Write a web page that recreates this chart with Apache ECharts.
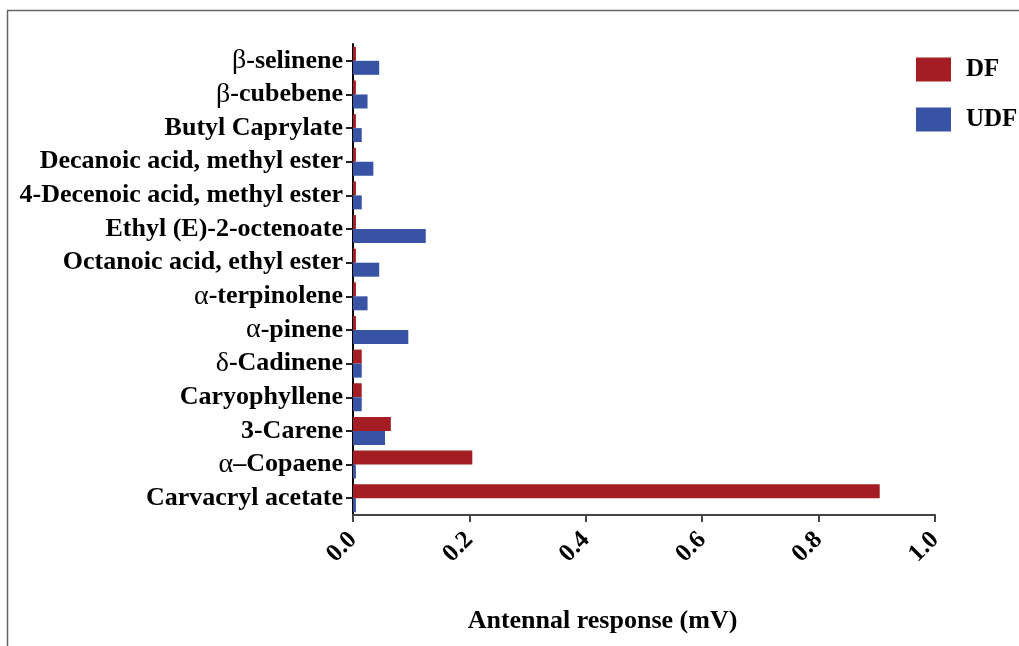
<!DOCTYPE html>
<html>
<head>
<meta charset="utf-8">
<script src="https://cdn.jsdelivr.net/npm/echarts@6/dist/echarts.min.js"></script>
<style>html,body{margin:0;padding:0;background:#fff}#c{width:1019px;height:646px}</style>
</head>
<body>
<div id="c"></div>
<script>
var categories = ['Carvacryl acetate','α–Copaene','3-Carene','Caryophyllene','δ-Cadinene','α-pinene','α-terpinolene','Octanoic acid, ethyl ester','Ethyl (E)-2-octenoate','4-Decenoic acid, methyl ester','Decanoic acid, methyl ester','Butyl Caprylate','β-cubebene','β-selinene'];
var dfValues  = [0.905, 0.205, 0.065, 0.015, 0.015, 0.005, 0.005, 0.005, 0.005, 0.005, 0.005, 0.005, 0.005, 0.005];
var udfValues = [0.005, 0.005, 0.055, 0.015, 0.015, 0.095, 0.025, 0.045, 0.125, 0.015, 0.035, 0.015, 0.025, 0.045];
var seriesNames = ['DF', 'UDF'];

var font = '"Liberation Serif", "Times New Roman", serif';
var chart = echarts.init(document.getElementById('c'), null, {renderer: 'canvas'});
chart.setOption({
  animation: false,
  backgroundColor: '#fff',
  graphic: [
    {type: 'line', shape: {x1: 7.5, y1: 10, x2: 7.5, y2: 646}, style: {stroke: '#666', lineWidth: 1.5}},
    {type: 'line', shape: {x1: 7, y1: 10.5, x2: 1019, y2: 10.5}, style: {stroke: '#666', lineWidth: 1.5}}
  ],
  legend: {
    data: seriesNames,
    orient: 'vertical',
    left: 911, top: 52,
    itemWidth: 35, itemHeight: 24, itemGap: 25,
    icon: 'rect',
    textStyle: {fontFamily: font, fontWeight: 'bold', fontSize: 25, color: '#000', padding: [3,0,0,10]}
  },
  grid: {left: 353, right: 84, top: 44, bottom: 131, containLabel: false},
  xAxis: {
    type: 'value', min: 0, max: 1.0, interval: 0.2,
    name: 'Antennal response (mV)', nameLocation: 'middle', nameGap: 93,
    nameTextStyle: {fontFamily: font, fontWeight: 'bold', fontSize: 26, color: '#000', padding: [0, 83, 0, 0]},
    axisLine: {show: true, lineStyle: {color: '#444', width: 2}},
    axisTick: {show: true, length: 7, lineStyle: {color: '#444', width: 2}},
    splitLine: {show: false},
    axisLabel: {
      rotate: 45, margin: 21, fontFamily: font, fontWeight: 'bold', fontSize: 25, color: '#000',
      formatter: function (v) { return v.toFixed(1); }
    }
  },
  yAxis: {
    type: 'category', data: categories,
    axisLine: {show: true, lineStyle: {color: '#000', width: 2}},
    axisTick: {show: true, alignWithLabel: true, interval: 0, length: 7, lineStyle: {color: '#222', width: 2}},
    axisLabel: {
      interval: 0,
      fontFamily: font, fontWeight: 'bold', fontSize: 26, color: '#000', margin: 10,
      formatter: function (v) { return v.replace(/([αβδ])/g, '{g|$1}'); },
      rich: {g: {fontFamily: font, fontWeight: 'normal', fontSize: 28, color: '#000'}}
    }
  },
  series: [
    {name: 'DF', type: 'bar', data: dfValues, barWidth: 14, barGap: '0%', itemStyle: {color: '#A51D24'}},
    {name: 'UDF', type: 'bar', data: udfValues, barWidth: 14, barGap: '0%', itemStyle: {color: '#3953A4'}}
  ]
});
</script>
</body>
</html>
